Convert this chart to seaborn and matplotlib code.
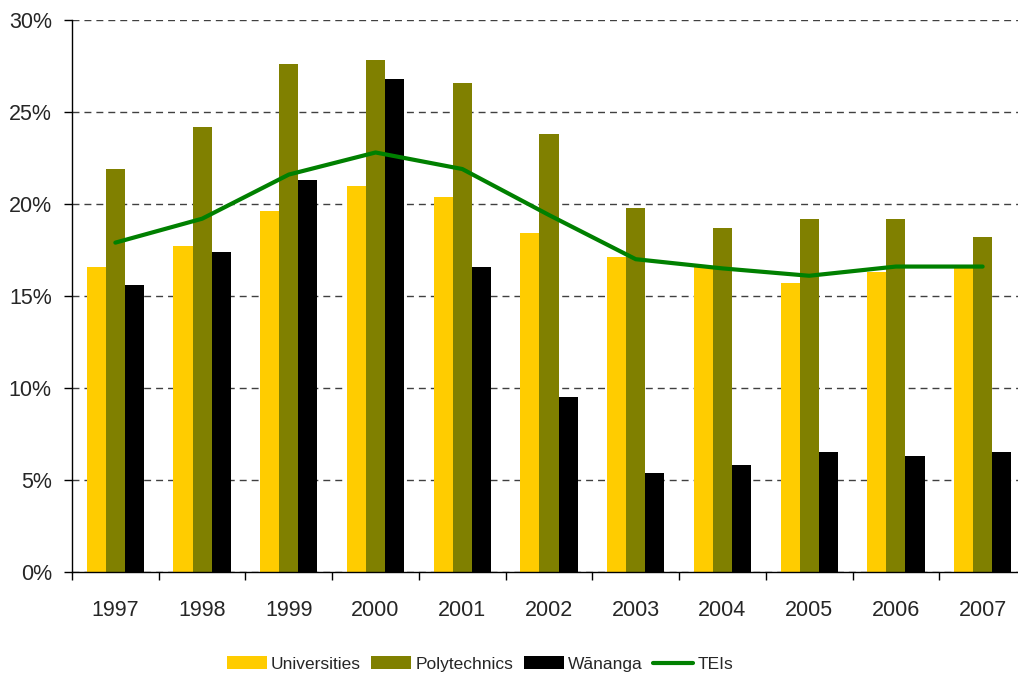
import numpy as np
import pandas as pd
import matplotlib
matplotlib.use("Agg")
import matplotlib.pyplot as plt
from matplotlib.patches import Patch
from matplotlib.lines import Line2D
from matplotlib.ticker import FuncFormatter, MultipleLocator, FixedLocator
import seaborn as sns

years = ["1997", "1998", "1999", "2000", "2001", "2002",
         "2003", "2004", "2005", "2006", "2007"]
universities = [16.6, 17.7, 19.6, 21.0, 20.4, 18.4, 17.1, 16.6, 15.7, 16.3, 16.6]
polytechnics = [21.9, 24.2, 27.6, 27.8, 26.6, 23.8, 19.8, 18.7, 19.2, 19.2, 18.2]
wananga = [15.6, 17.4, 21.3, 26.8, 16.6, 9.5, 5.4, 5.8, 6.5, 6.3, 6.5]
teis = [17.9, 19.2, 21.6, 22.8, 21.9, 19.4, 17.0, 16.5, 16.1, 16.6, 16.6]

series_names = ["Universities", "Polytechnics", "Wānanga"]
bar_colors = ["#FFCC00", "#808000", "#000000"]
line_name = "TEIs"
line_color = "#008000"

sns.set_theme(style="white")
plt.rcParams["font.family"] = ["Liberation Sans", "DejaVu Sans"]

bars = pd.DataFrame({
    "year": np.tile(years, 3),
    "type": np.repeat(series_names, len(years)),
    "value": universities + polytechnics + wananga,
})
line = pd.DataFrame({"pos": np.arange(len(years)), "value": teis})

fig = plt.figure(figsize=(10.18, 6.75), dpi=100)
ax = fig.add_axes([72 / 1018, 1 - 572 / 675, 954 / 1018, 552 / 675])

sns.barplot(data=bars, x="year", y="value", hue="type", order=years,
            hue_order=series_names, palette=bar_colors, width=0.66,
            saturation=1, errorbar=None, legend=False, ax=ax, zorder=2)
sns.lineplot(data=line, x="pos", y="value", color=line_color, linewidth=3,
             ax=ax, zorder=3)

for p in ax.patches:
    p.set_linewidth(0)

ax.set_xlim(-0.5, len(years) - 0.5)
ax.set_ylim(0, 30)
ax.yaxis.set_major_locator(MultipleLocator(5))
ax.yaxis.set_major_formatter(FuncFormatter(lambda v, _: f"{v:.0f}%"))
ax.set_xticks(np.arange(len(years)))
ax.set_xticklabels(years)
ax.xaxis.set_minor_locator(FixedLocator(np.arange(-0.5, len(years), 1.0)))

ax.grid(axis="y", color="#404040", linestyle=(0, (5, 3.6)), linewidth=1, zorder=0)
ax.set_axisbelow(True)

for side in ("top", "right"):
    ax.spines[side].set_visible(False)
for side in ("left", "bottom"):
    ax.spines[side].set_color("#000000")
    ax.spines[side].set_linewidth(1)

ax.tick_params(axis="y", which="major", direction="out", length=6, width=1,
               color="black", labelsize=15.5, pad=8.5, left=True)
ax.tick_params(axis="x", which="major", length=0, labelsize=15.5, pad=20)
ax.tick_params(axis="x", which="minor", direction="out", length=6, width=1,
               color="black", bottom=True)
ax.set_xlabel("")
ax.set_ylabel("")

handles = [Patch(facecolor=c, edgecolor="none", label=n)
           for n, c in zip(series_names, bar_colors)]
handles.append(Line2D([0], [0], color=line_color, linewidth=3, label=line_name))
fig.legend(handles=handles, loc="center", bbox_to_anchor=(480 / 1018, 1 - 664 / 675),
           ncol=4, frameon=False, fontsize=12.5, handlelength=2.3, handleheight=0.8,
           handletextpad=0.25, columnspacing=0.6, borderpad=0)

fig.savefig("out.png", dpi=100)
